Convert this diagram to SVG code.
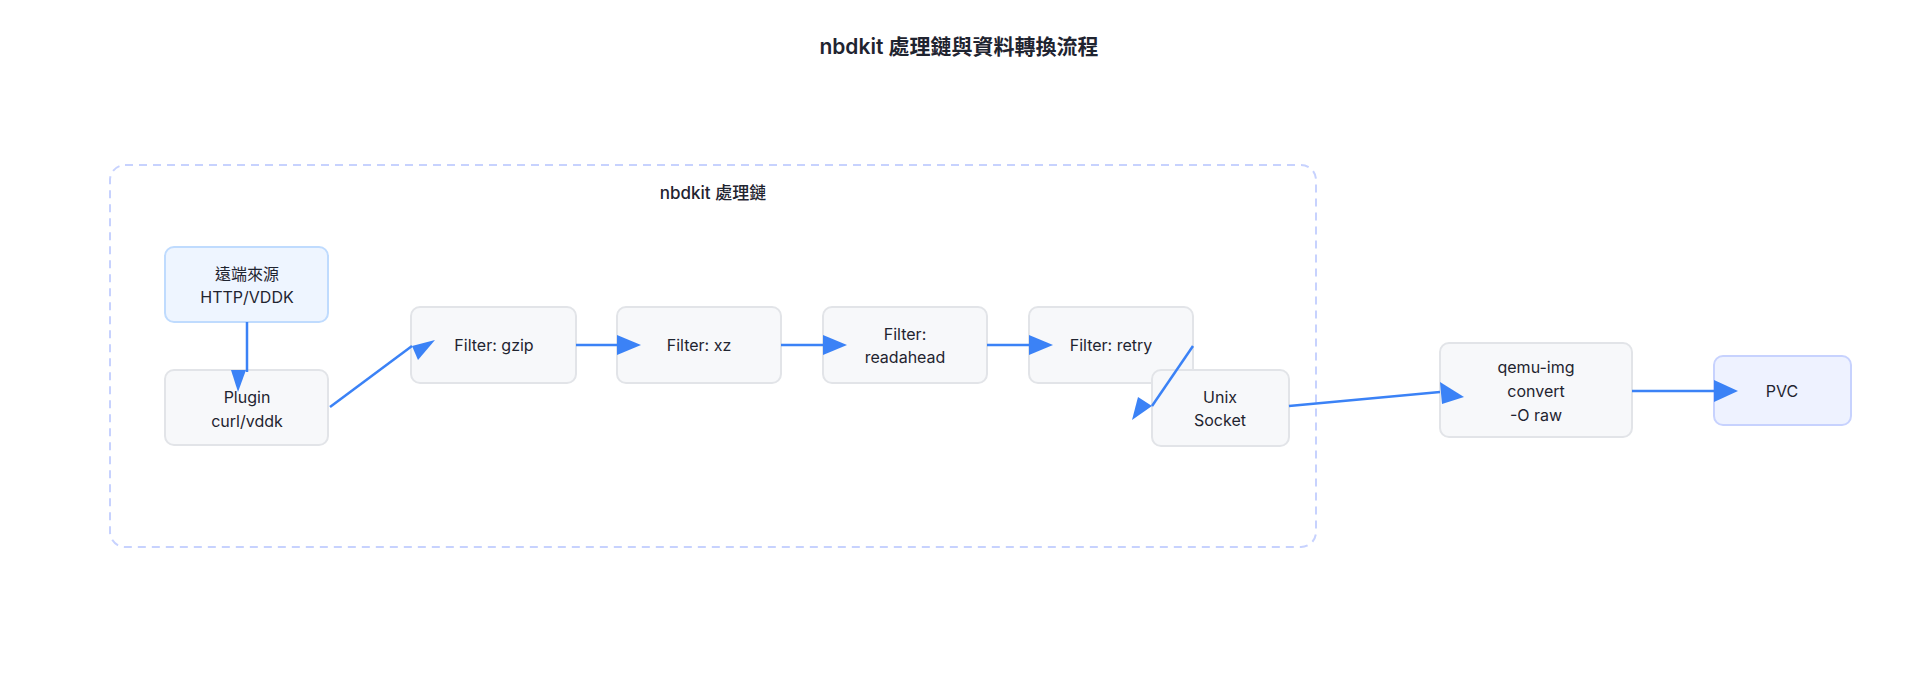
<svg xmlns="http://www.w3.org/2000/svg" width="1920" height="686" viewBox="0 0 1920 686">
<style>
text{font-family:"Inter","Noto Sans CJK TC",sans-serif;fill:#1f2430;text-anchor:middle;font-size:16px}
.n{fill:#f7f8fa;stroke:#e2e4e8;stroke-width:2}
.e{stroke:#3b82f6;stroke-width:2.5;fill:none}
.h{fill:#3b82f6}
</style>
<rect width="1920" height="686" fill="#fff"/>
<text x="959" y="54" style="font-size:21px;font-weight:600">nbdkit 處理鏈與資料轉換流程</text>
<g id="cluster">
<rect x="110" y="165" width="1206" height="382" rx="15" fill="none" stroke="#c7d2fe" stroke-width="2" stroke-dasharray="8,6"/>
<text x="713" y="199" style="font-size:17px;font-weight:500">nbdkit 處理鏈</text>
</g>
<g id="src"><rect x="165" y="247" width="163" height="75" rx="9" fill="#eef5ff" stroke="#bfdbfe" stroke-width="2"/><text x="247" y="280">遠端來源</text><text x="247" y="303">HTTP/VDDK</text></g>
<g id="plugin"><rect class="n" x="165" y="370" width="163" height="75" rx="9"/><text x="247" y="403">Plugin</text><text x="247" y="427">curl/vddk</text></g>
<g id="gzip"><rect class="n" x="411" y="307" width="165" height="76" rx="9"/><text x="494" y="351">Filter: gzip</text></g>
<g id="xz"><rect class="n" x="617" y="307" width="164" height="76" rx="9"/><text x="699" y="351">Filter: xz</text></g>
<g id="readahead"><rect class="n" x="823" y="307" width="164" height="76" rx="9"/><text x="905" y="340">Filter:</text><text x="905" y="363">readahead</text></g>
<g id="retry"><rect class="n" x="1029" y="307" width="164" height="76" rx="9"/><text x="1111" y="351">Filter: retry</text></g>
<g id="unix"><rect class="n" x="1152" y="370" width="137" height="76" rx="9"/><text x="1220" y="403">Unix</text><text x="1220" y="426">Socket</text></g>
<g id="qemu"><rect class="n" x="1440" y="343" width="192" height="94" rx="9"/><text x="1536" y="373">qemu-img</text><text x="1536" y="397">convert</text><text x="1536" y="421">-O raw</text></g>
<g id="pvc"><rect x="1714" y="356" width="137" height="69" rx="9" fill="#eef2ff" stroke="#c7d2fe" stroke-width="2"/><text x="1782" y="397">PVC</text></g>
<g id="connectors">
<line class="e" x1="247" y1="322" x2="247" y2="372"/><polygon class="h" points="231,370 246,370 238,392"/>
<line class="e" x1="330" y1="407" x2="412" y2="346"/><polygon class="h" points="435,340 418,360 412,346"/>
<line class="e" x1="576" y1="345" x2="618" y2="345"/><polygon class="h" points="617,335 641,345 617,355"/>
<line class="e" x1="781" y1="345" x2="824" y2="345"/><polygon class="h" points="823,335 847,345 823,355"/>
<line class="e" x1="987" y1="345" x2="1030" y2="345"/><polygon class="h" points="1029,335 1053,345 1029,355"/>
<line class="e" x1="1193" y1="346" x2="1152" y2="406"/><polygon class="h" points="1138,397 1132,420 1152,406"/>
<line class="e" x1="1289" y1="406" x2="1440" y2="392"/><polygon class="h" points="1440,382 1464,397 1442,404"/>
<line class="e" x1="1632" y1="391" x2="1716" y2="391"/><polygon class="h" points="1714,380 1738,391 1714,402"/>
</g>
</svg>
